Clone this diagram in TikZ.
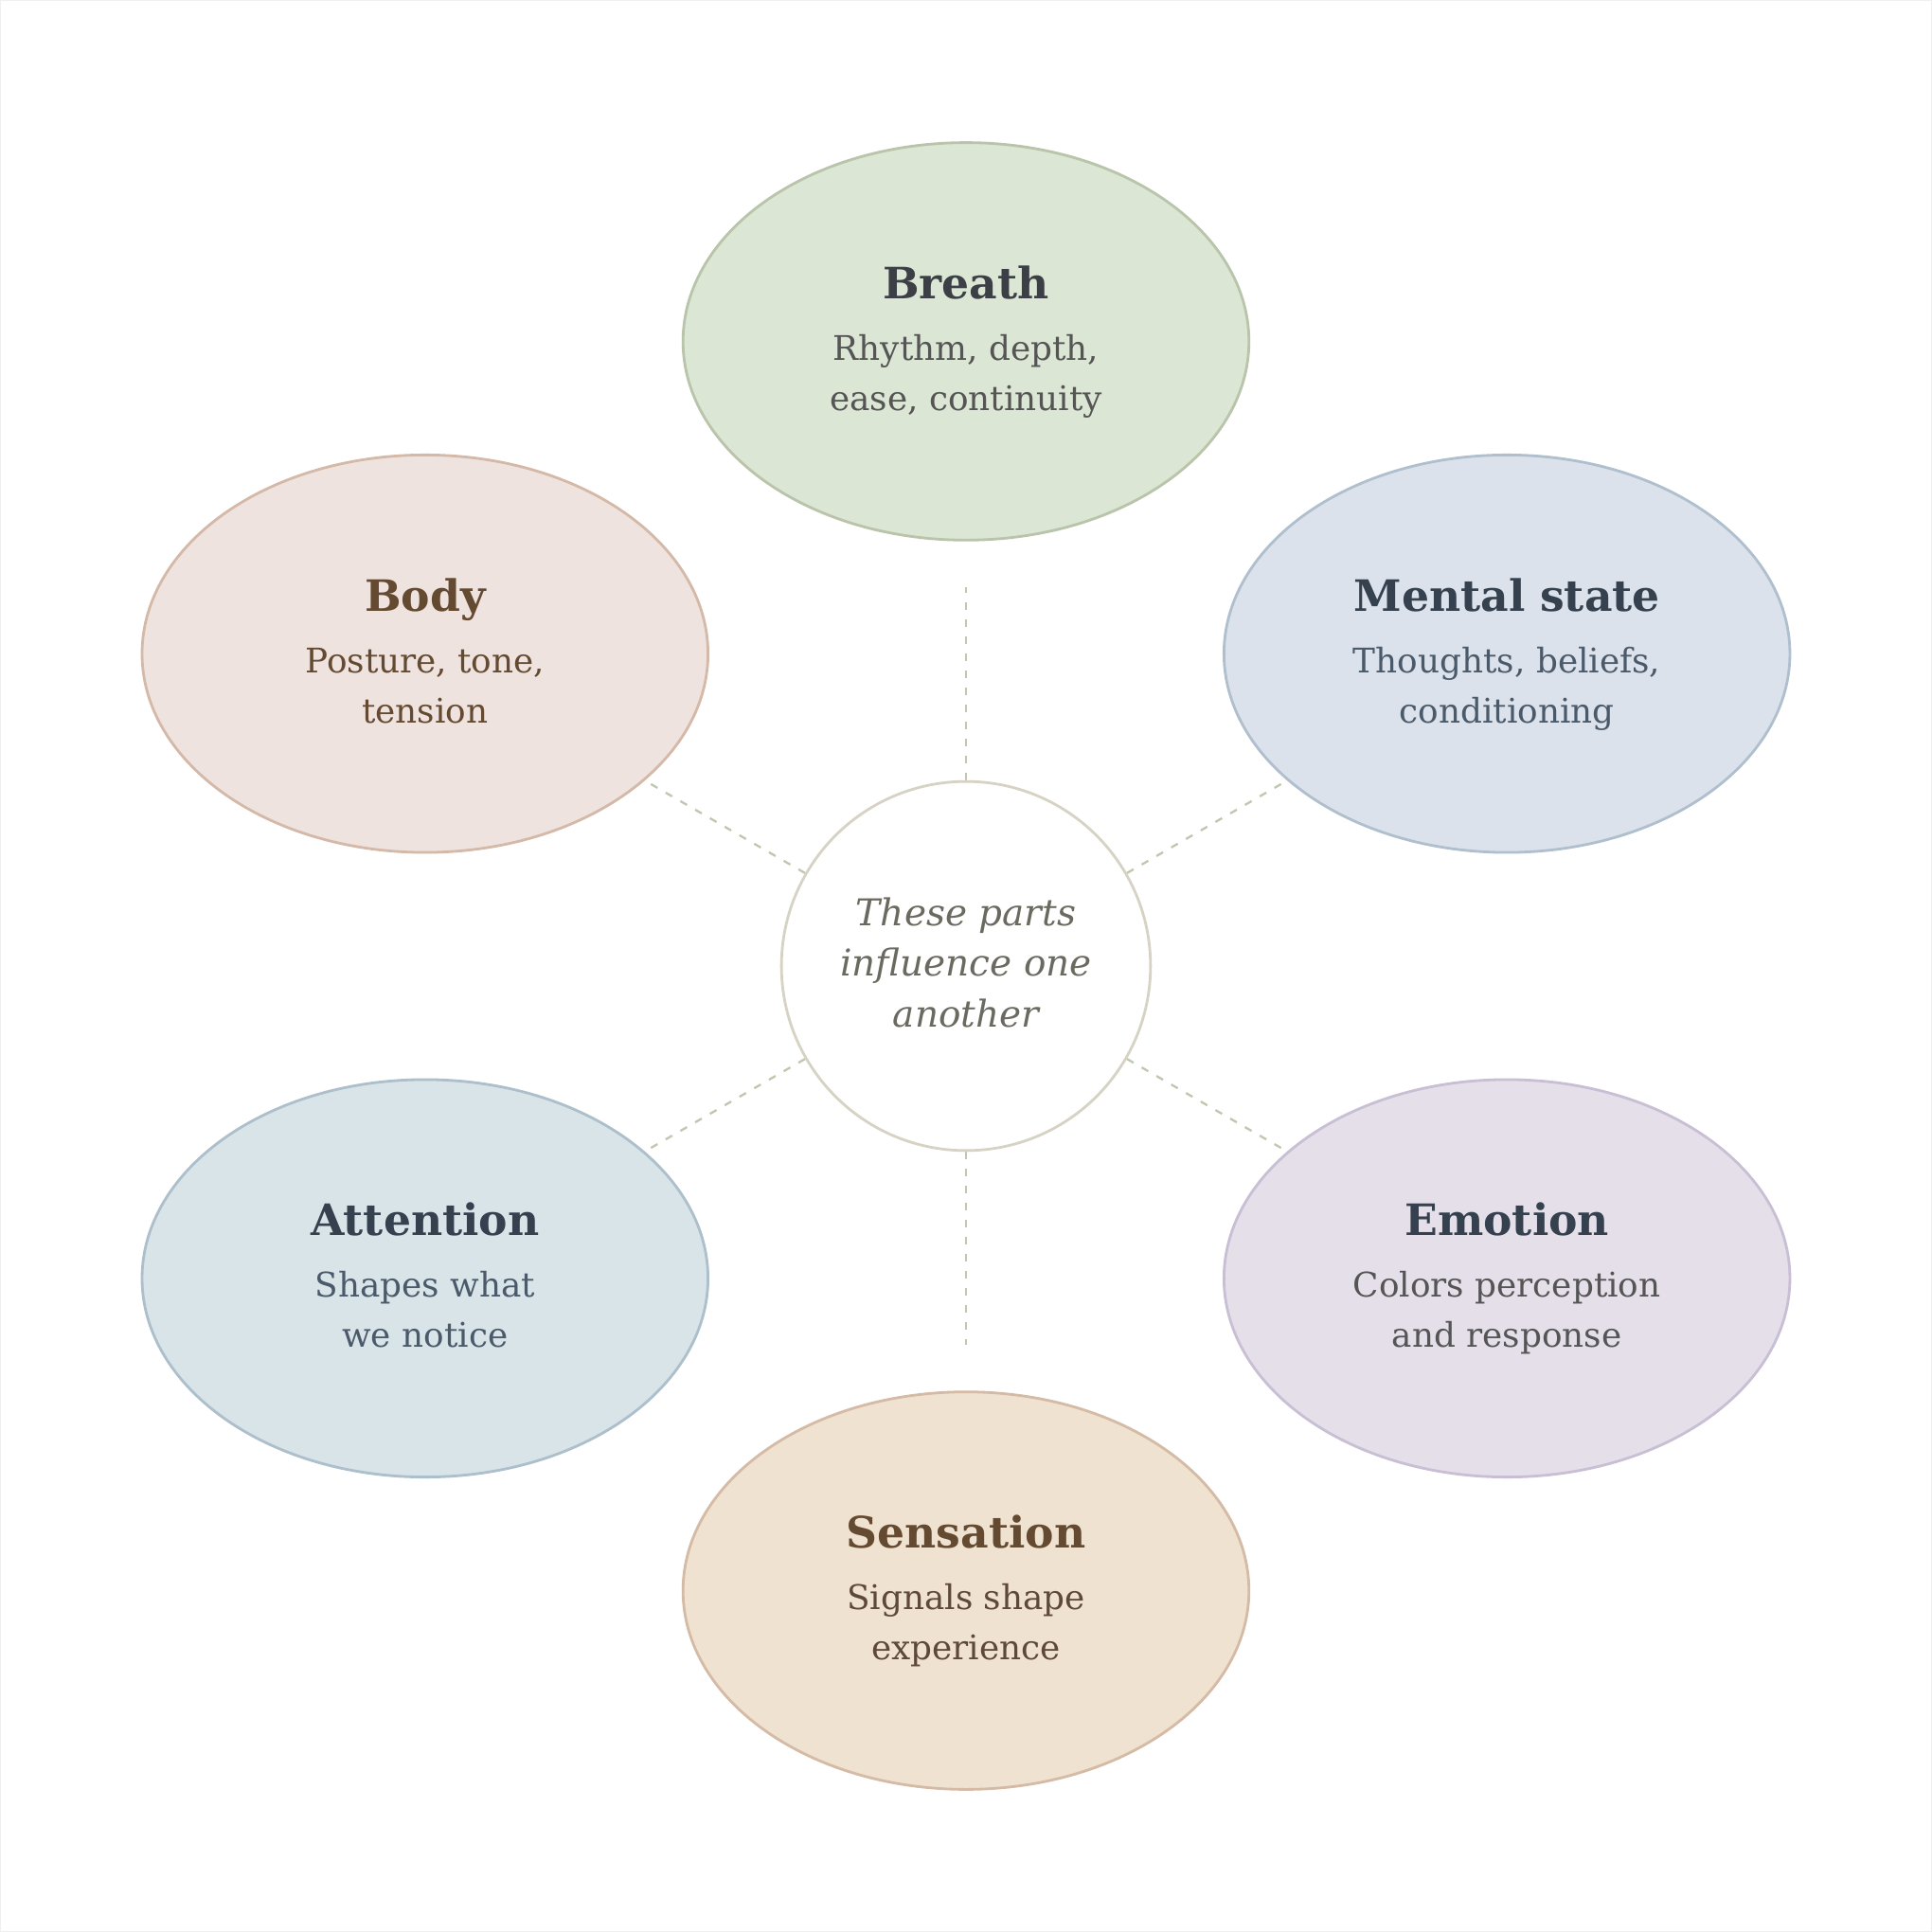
\documentclass[tikz,border=0pt]{standalone}
\usepackage{fontspec}
\setmainfont{DejaVu Serif}
\usetikzlibrary{shapes.geometric,backgrounds,calc}

% Define part colours
\definecolor{breathfill}{HTML}{DCE6D4}
\definecolor{breathline}{HTML}{B9C4AB}
\definecolor{bodyfill}{HTML}{EFE3DF}
\definecolor{bodyline}{HTML}{D5B9A8}
\definecolor{mentalfill}{HTML}{DCE2EB}
\definecolor{mentalline}{HTML}{B0BFCE}
\definecolor{attnfill}{HTML}{D9E4E9}
\definecolor{attnline}{HTML}{ACBFCB}
\definecolor{emotionfill}{HTML}{E5DFEA}
\definecolor{emotionline}{HTML}{C9BFD4}
\definecolor{sensefill}{HTML}{EFE2D1}
\definecolor{senseline}{HTML}{D5BBA5}
\definecolor{hubline}{HTML}{D6D3C5}
\definecolor{hubtext}{HTML}{6B6A60}
\definecolor{linkcolor}{HTML}{BFC7AE}
\definecolor{framecolor}{HTML}{F0F0F0}
\definecolor{greytitle}{HTML}{3C4046}
\definecolor{greytext}{HTML}{555555}
\definecolor{browntitle}{HTML}{654A32}
\definecolor{browntext}{HTML}{5E4838}
\definecolor{slatetitle}{HTML}{36414F}
\definecolor{slatetext}{HTML}{4A5A6A}

\newcommand{\ttl}[2]{{\color{#1}\fontsize{13}{16}\selectfont\bfseries #2}\\[3.4pt]}

\begin{document}
\begin{tikzpicture}[
part/.style={ellipse, line width=0.8pt, minimum width=5.98cm, minimum height=4.2cm,
    inner sep=0pt, align=center, text height=14.6mm, text depth=0pt,
    font=\fontsize{10.2}{15.1}\selectfont},
hub/.style={circle, draw=hubline, fill=white, line width=0.8pt, minimum size=3.9cm,
    inner sep=0pt, align=center, text=hubtext, font=\fontsize{11.1}{15.2}\selectfont\itshape},
link/.style={draw=linkcolor, line width=0.65pt, dash pattern=on 0.8mm off 1mm}]

\node [hub] (hub) at (0,0)
    {\raisebox{0.95mm}{\begin{tabular}{@{}c@{}}These parts\\influence one\\another\end{tabular}}};

\node [part, draw=breathline, fill=breathfill, text=greytext] (breath) at (90:6.6cm)
    {\ttl{greytitle}{Breath}Rhythm, depth,\\ease, continuity};
\node [part, draw=bodyline, fill=bodyfill, text=browntitle] (body) at (150:6.6cm)
    {\ttl{browntitle}{Body}Posture, tone,\\tension};
\node [part, draw=mentalline, fill=mentalfill, text=slatetext] (mental) at (30:6.6cm)
    {\ttl{slatetitle}{Mental state}Thoughts, beliefs,\\conditioning};
\node [part, draw=attnline, fill=attnfill, text=slatetext] (attention) at (210:6.6cm)
    {\ttl{slatetitle}{Attention}Shapes what\\we notice};
\node [part, draw=emotionline, fill=emotionfill, text=greytext] (emotion) at (330:6.6cm)
    {\ttl{slatetitle}{Emotion}Colors perception\\and response};
\node [part, draw=senseline, fill=sensefill, text=browntext] (sensation) at (270:6.6cm)
    {\ttl{browntitle}{Sensation}Signals shape\\experience};

\begin{scope}[on background layer]
\draw [draw=framecolor, fill=white] (-10.2,-10.2) rectangle (10.2,10.2);
% dashed spokes, tucked under the ellipses
\foreach \n in {breath,body,mental,attention,emotion,sensation}{
    \coordinate (\n-tip) at ($(hub)!4cm!(\n)$);
    \draw [link] (hub) -- (\n-tip);
}
\end{scope}
\end{tikzpicture}
\end{document}
